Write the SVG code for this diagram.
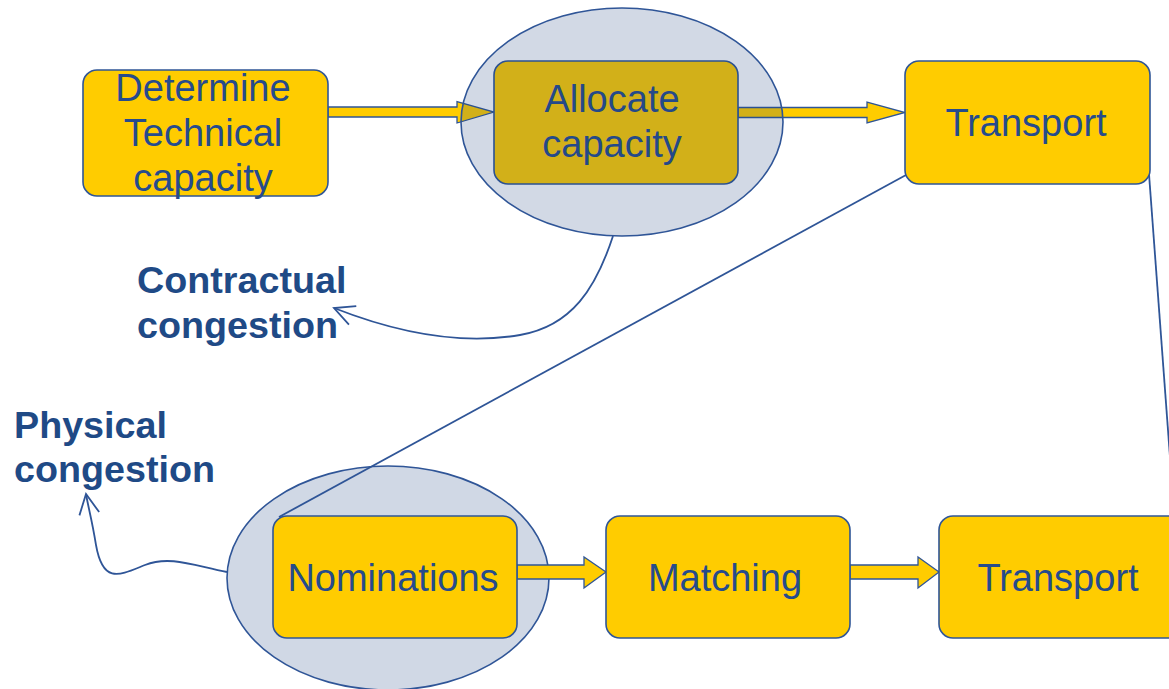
<svg xmlns="http://www.w3.org/2000/svg" width="1169" height="689" viewBox="0 0 1169 689">
<style>
.box{fill:#FFCC00;stroke:#2F5597;stroke-width:1.6}
.lbl{font-family:"Liberation Sans",Arial,sans-serif;font-size:38px;fill:#264B8C;text-anchor:middle}
.note{font-family:"Liberation Sans",Arial,sans-serif;font-size:37.7px;font-weight:bold;fill:#1F4A86}
.blk{fill:#FFCC00;stroke:#2F5597;stroke-width:1.3}
.ln{fill:none;stroke:#2F5597;stroke-width:1.8}
</style>
<defs>
<marker id="open" viewBox="0 0 24 24" refX="22" refY="12" markerWidth="24" markerHeight="24" markerUnits="userSpaceOnUse" orient="auto">
<path d="M2,2 L22,12 L2,22" fill="none" stroke="#2F5597" stroke-width="1.8"/>
</marker>
</defs>
<rect width="1169" height="689" fill="#FFFFFF"/>
<g id="nominations-focus">
<ellipse cx="388" cy="578" rx="161" ry="112" fill="#D0D8E5" stroke="#2F5597" stroke-width="1.6"/>
</g>
<g id="connectors">
<polygon class="blk" points="328,107 457,107 457,101.5 494,112 457,123 457,117 328,117"/>
<polygon class="blk" points="738,107.5 867,107.5 867,102 905,112.5 867,123 867,117.5 738,117.5"/>
<polygon class="blk" points="517,565 584,565 584,557 606,572 584,588 584,579 517,579"/>
<polygon class="blk" points="850,565 918,565 918,557 939,572 918,588 918,579 850,579"/>
<line class="ln" x1="906" y1="175" x2="279" y2="517"/>
<line class="ln" x1="1149" y1="174" x2="1172" y2="484"/>
<path class="ln" d="M613,236 C596,288 572,326 520,335 C462,345 400,334 334,308" marker-end="url(#open)"/>
<path class="ln" d="M227,572 C195,566 170,555 145,565 C120,575 103,585 96,545 C92,520 88,506 86,494" marker-end="url(#open)"/>
</g>
<g id="determine">
<rect class="box" x="83" y="70" width="245" height="126" rx="14"/>
<text class="lbl" x="203" y="101">Determine</text>
<text class="lbl" x="203" y="146">Technical</text>
<text class="lbl" x="203" y="191">capacity</text>
</g>
<g id="allocate">
<rect class="box" x="494" y="61" width="244" height="123" rx="14"/>
<text class="lbl" x="612" y="112">Allocate</text>
<text class="lbl" x="612" y="157">capacity</text>
</g>
<g id="allocate-focus">
<ellipse cx="622" cy="122" rx="161" ry="114" fill="#1F3F7F" fill-opacity="0.2" stroke="#2F5597" stroke-width="1.6"/>
</g>
<g id="transport-top">
<rect class="box" x="905" y="61" width="245" height="123" rx="14"/>
<text class="lbl" x="1026" y="136">Transport</text>
</g>
<g id="nominations">
<rect class="box" x="273" y="516" width="244" height="122" rx="14"/>
<text class="lbl" x="393" y="591">Nominations</text>
</g>
<g id="matching">
<rect class="box" x="606" y="516" width="244" height="122" rx="14"/>
<text class="lbl" x="725" y="591">Matching</text>
</g>
<g id="transport-bottom">
<rect class="box" x="939" y="516" width="260" height="122" rx="14"/>
<text class="lbl" x="1058" y="591">Transport</text>
</g>
<g id="contractual-congestion">
<text class="note" x="137" y="293">Contractual</text>
<text class="note" x="137" y="338">congestion</text>
</g>
<g id="physical-congestion">
<text class="note" x="14" y="438">Physical</text>
<text class="note" x="14" y="482">congestion</text>
</g>
</svg>
